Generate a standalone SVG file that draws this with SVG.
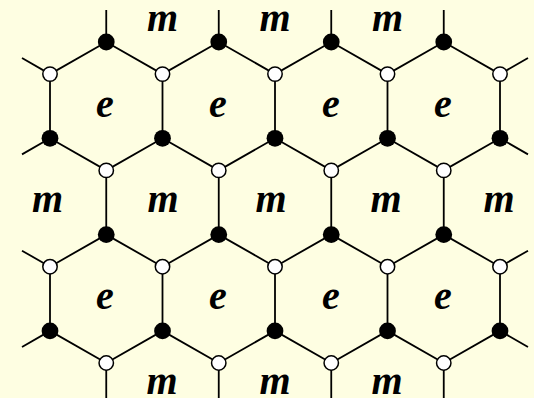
<svg xmlns="http://www.w3.org/2000/svg" width="534" height="398" viewBox="0 0 534 398">
<style>
.e{stroke:#000;stroke-width:1.8;fill:none}
.w{fill:#fff;stroke:#000;stroke-width:1.5}
.b{fill:#000}
.t{font-family:"Liberation Serif","Times New Roman",serif;font-weight:bold;font-style:italic;font-size:40px;text-anchor:middle;fill:#000}
</style>
<rect width="534" height="398" fill="#fefee2"/>
<g id="connectors" class="e">
<path d="M106.25,10V42M218.75,10V42M331.25,10V42M443.75,10V42
M22,58L50,74.1L106.25,42L162.5,74.1L218.75,42L275,74.1L331.25,42L387.5,74.1L443.75,42L500,74.1L528,58
M50,74.1V138.3M162.5,74.1V138.3M275,74.1V138.3M387.5,74.1V138.3M500,74.1V138.3
M22,154.4L50,138.3L106.25,170.4L162.5,138.3L218.75,170.4L275,138.3L331.25,170.4L387.5,138.3L443.75,170.4L500,138.3L528,154.4
M106.25,170.4V234.6M218.75,170.4V234.6M331.25,170.4V234.6M443.75,170.4V234.6
M22,250.7L50,266.7L106.25,234.6L162.5,266.7L218.75,234.6L275,266.7L331.25,234.6L387.5,266.7L443.75,234.6L500,266.7L528,250.7
M50,266.7V330.9M162.5,266.7V330.9M275,266.7V330.9M387.5,266.7V330.9M500,266.7V330.9
M22,347L50,330.9L106.25,363L162.5,330.9L218.75,363L275,330.9L331.25,363L387.5,330.9L443.75,363L500,330.9L528,347
M106.25,363V398M218.75,363V398M331.25,363V398M443.75,363V398"/>
</g>
<g id="row-a" class="b">
<g id="a1"><circle cx="106.25" cy="42" r="8.4"/></g>
<g id="a2"><circle cx="218.75" cy="42" r="8.4"/></g>
<g id="a3"><circle cx="331.25" cy="42" r="8.4"/></g>
<g id="a4"><circle cx="443.75" cy="42" r="8.4"/></g>
</g>
<g id="row-b" class="w">
<g id="b1"><circle cx="50" cy="74.1" r="7.2"/></g>
<g id="b2"><circle cx="162.5" cy="74.1" r="7.2"/></g>
<g id="b3"><circle cx="275" cy="74.1" r="7.2"/></g>
<g id="b4"><circle cx="387.5" cy="74.1" r="7.2"/></g>
<g id="b5"><circle cx="500" cy="74.1" r="7.2"/></g>
</g>
<g id="row-c" class="b">
<g id="c1"><circle cx="50" cy="138.3" r="8.4"/></g>
<g id="c2"><circle cx="162.5" cy="138.3" r="8.4"/></g>
<g id="c3"><circle cx="275" cy="138.3" r="8.4"/></g>
<g id="c4"><circle cx="387.5" cy="138.3" r="8.4"/></g>
<g id="c5"><circle cx="500" cy="138.3" r="8.4"/></g>
</g>
<g id="row-d" class="w">
<g id="d1"><circle cx="106.25" cy="170.4" r="7.2"/></g>
<g id="d2"><circle cx="218.75" cy="170.4" r="7.2"/></g>
<g id="d3"><circle cx="331.25" cy="170.4" r="7.2"/></g>
<g id="d4"><circle cx="443.75" cy="170.4" r="7.2"/></g>
</g>
<g id="row-e" class="b">
<g id="e1"><circle cx="106.25" cy="234.6" r="8.4"/></g>
<g id="e2"><circle cx="218.75" cy="234.6" r="8.4"/></g>
<g id="e3"><circle cx="331.25" cy="234.6" r="8.4"/></g>
<g id="e4"><circle cx="443.75" cy="234.6" r="8.4"/></g>
</g>
<g id="row-f" class="w">
<g id="f1"><circle cx="50" cy="266.7" r="7.2"/></g>
<g id="f2"><circle cx="162.5" cy="266.7" r="7.2"/></g>
<g id="f3"><circle cx="275" cy="266.7" r="7.2"/></g>
<g id="f4"><circle cx="387.5" cy="266.7" r="7.2"/></g>
<g id="f5"><circle cx="500" cy="266.7" r="7.2"/></g>
</g>
<g id="row-g" class="b">
<g id="g1"><circle cx="50" cy="330.9" r="8.4"/></g>
<g id="g2"><circle cx="162.5" cy="330.9" r="8.4"/></g>
<g id="g3"><circle cx="275" cy="330.9" r="8.4"/></g>
<g id="g4"><circle cx="387.5" cy="330.9" r="8.4"/></g>
<g id="g5"><circle cx="500" cy="330.9" r="8.4"/></g>
</g>
<g id="row-h" class="w">
<g id="h1"><circle cx="106.25" cy="363" r="7.2"/></g>
<g id="h2"><circle cx="218.75" cy="363" r="7.2"/></g>
<g id="h3"><circle cx="331.25" cy="363" r="7.2"/></g>
<g id="h4"><circle cx="443.75" cy="363" r="7.2"/></g>
</g>
<g id="labels" class="t">
<text x="162.5" y="30.5">m</text>
<text x="275" y="30.5">m</text>
<text x="387.5" y="30.5">m</text>
<text x="105" y="117">e</text>
<text x="218" y="117">e</text>
<text x="331" y="117">e</text>
<text x="443" y="117">e</text>
<text x="47.5" y="211.5">m</text>
<text x="163" y="211.5">m</text>
<text x="271" y="211.5">m</text>
<text x="386" y="211.5">m</text>
<text x="499" y="211.5">m</text>
<text x="105" y="308.5">e</text>
<text x="218" y="308.5">e</text>
<text x="331" y="308.5">e</text>
<text x="443" y="308.5">e</text>
<text x="162" y="394">m</text>
<text x="275" y="394">m</text>
<text x="387" y="394">m</text>
</g>
</svg>
